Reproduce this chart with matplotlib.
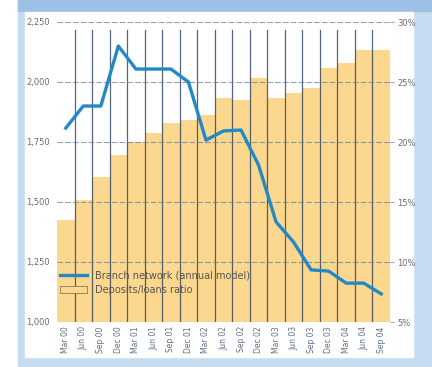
import matplotlib.pyplot as plt
from matplotlib.patches import Rectangle
import numpy as np

# Data
quarters = ["Mar 00", "Jun 00", "Sep 00", "Dec 00", "Mar 01", "Jun 01", "Sep 01",
            "Dec 01", "Mar 02", "Jun 02", "Sep 02", "Dec 02", "Mar 03", "Jun 03",
            "Sep 03", "Dec 03", "Mar 04", "Jun 04", "Sep 04"]
branches = [1808, 1900, 1900, 2150, 2054, 2054, 2054, 2000, 1758, 1796,
            1800, 1654, 1417, 1333, 1217, 1212, 1162, 1162, 1117]
ratio_pct = [13.5, 15.2, 17.1, 18.9, 20.0, 20.75, 21.6, 21.8, 22.25, 23.7,
             23.5, 25.3, 23.7, 24.1, 24.5, 26.2, 26.6, 27.7, 27.7]

left_ticks = [1000, 1250, 1500, 1750, 2000, 2250]
right_ticks = [5, 10, 15, 20, 25, 30]

line_label = "Branch network (annual model)"
bar_label = "Deposits/loans ratio"

# Colours
FRAME = '#c6dcf1'
TOPBAR = '#9cc0e6'
BAR_COLOR = '#fcd88e'
LINE_COLOR = '#2289c6'
VLINE_COLOR = '#2b3f5c'
TEXT_COLOR = '#6a6a6a'

W, H = 432, 367
fig = plt.figure(figsize=(W / 100, H / 100), dpi=100)
fig.patch.set_facecolor('white')

# background frame (figure pixels -> fractions)
def box(x0, y0, x1, y1, color):
    fig.patches.append(Rectangle((x0 / W, 1 - y1 / H), (x1 - x0) / W, (y1 - y0) / H,
                                 transform=fig.transFigure, color=color, zorder=-10))

box(18, 0, W, H, FRAME)
box(18, 0, W, 11, TOPBAR)
box(25, 12, 413, 357, 'white')

ax = fig.add_axes([57 / W, 1 - 322 / H, (390 - 57) / W, 300 / H])
ax.set_facecolor('none')
x = np.arange(len(quarters))

ax.bar(x, ratio_pct, width=1.0, bottom=0, color=BAR_COLOR, linewidth=0, zorder=1)
ax.set_ylim(5, 30)
ax.set_xlim(-0.5, len(quarters) - 0.5)
ax.set_xticks(x)
ax.set_xticklabels(quarters, rotation=90, fontsize=5.5, color='#5d6f86')
ax.tick_params(axis='x', length=0, pad=3)

# vertical separators between quarters
for b in x[:-1] + 0.5:
    ax.plot([b, b], [5, 29.3], color=VLINE_COLOR, lw=0.9, alpha=0.8, zorder=3)

for s in ax.spines.values():
    s.set_visible(False)

ax2 = ax.twinx()
ax2.set_ylim(1000, 2250)

# percent scale on the right (after twinx, which resets the sides)
ax.yaxis.tick_right()
ax.set_yticks(right_ticks)
ax.set_yticklabels([f"{t}%" for t in right_ticks])
ax.tick_params(axis='y', left=False, labelleft=False, right=True, labelright=True,
               length=3, width=0.8, color='#9aa8b8', pad=2,
               labelsize=6, labelcolor=TEXT_COLOR)

# branch numbers on the left, left-aligned at the panel edge
ax2.yaxis.tick_left()
ax2.set_yticks(left_ticks)
ax2.set_yticklabels([f"{t:,}" for t in left_ticks])
ax2.tick_params(axis='y', left=False, right=False, labelleft=True, labelright=False,
                length=0, pad=22, labelsize=6, labelcolor=TEXT_COLOR)
for t in ax2.get_yticklabels():
    t.set_horizontalalignment('left')
ax2.yaxis.grid(True, color='#5b7fa6', lw=0.8, linestyle=(0, (5, 2)), alpha=0.7)
for s in ax2.spines.values():
    s.set_visible(False)

l, = ax2.plot(x, branches, color=LINE_COLOR, lw=2.4, zorder=5, label=line_label)
bar_handle = Rectangle((0, 0), 1, 1, facecolor=BAR_COLOR, edgecolor='#8a7a55', lw=0.6)

ax2.legend([l, bar_handle], [line_label, bar_label], loc='lower left',
           bbox_to_anchor=(-0.01, 0.07), frameon=False, fontsize=7,
           handlelength=2.8, labelcolor='#555555', borderaxespad=0.2)

fig.savefig("out.png", dpi=100)
